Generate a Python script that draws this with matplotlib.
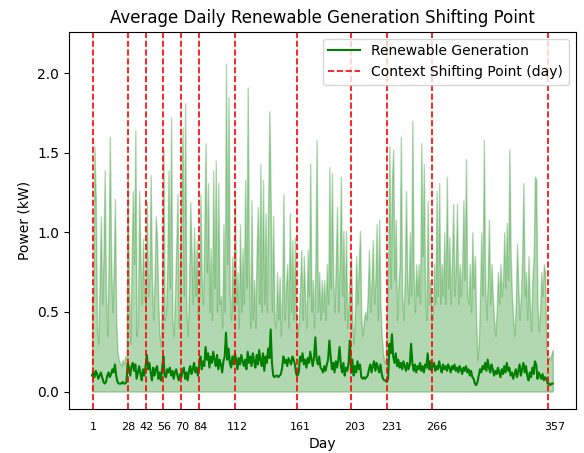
import numpy as np
import matplotlib
matplotlib.use("Agg")
import matplotlib.pyplot as plt

# Daily peak renewable generation (kW), day 0..361
peak_kw = [
    0.60, 0.58, 1.54, 1.20, 0.40, 0.30, 0.70, 1.10, 0.55, 0.85,
    1.39, 0.60, 0.35, 0.80, 1.60, 0.85, 0.50, 0.75, 1.21, 0.45,
    0.25, 0.20, 0.18, 0.16, 0.20, 0.17, 0.22, 0.20,
    1.39, 0.65, 0.30, 0.80, 1.26, 0.80, 1.64, 0.35, 0.45, 1.26, 0.85, 0.55,
    0.96, 0.60, 0.55, 1.19, 0.60, 0.75, 1.36, 0.70, 0.45, 0.70,
    1.10, 0.95, 0.55, 0.35, 0.28, 0.75, 1.52, 0.45, 0.50, 0.80,
    1.39, 0.65, 1.72, 0.45, 0.35, 0.60, 0.90, 1.24, 0.40, 0.85,
    1.20, 1.66, 0.60, 1.81, 0.50, 0.35, 0.65, 1.19, 0.90, 0.55,
    1.03, 0.60, 0.95, 0.45, 0.60, 1.24, 0.70, 0.55, 1.00, 1.56,
    0.75, 1.31, 0.50, 0.90, 0.45, 1.39, 0.65, 1.45, 0.50, 1.31,
    0.55, 0.60, 0.40, 1.05, 0.50, 2.06, 0.80, 1.85, 0.60, 0.45,
    0.85, 0.50, 1.26, 0.55, 0.75, 0.40, 1.05, 0.50, 0.90, 0.55,
    1.33, 0.65, 1.91, 0.75, 0.40, 1.20, 0.45, 0.70, 0.40, 0.90,
    1.16, 0.55, 1.43, 0.50, 1.33, 0.55, 1.12, 0.50, 1.18, 1.76,
    1.20, 0.50, 1.10, 0.45, 0.40, 0.75, 0.45, 0.72, 0.35, 0.60,
    1.24, 0.45, 0.65, 0.80, 0.40, 1.12, 0.50, 0.95, 0.45, 0.97,
    0.40, 0.35, 0.45, 0.65, 0.89, 0.45, 0.85, 0.55, 0.40, 0.89,
    0.60, 1.43, 0.50, 0.70, 0.40, 0.80, 1.58, 0.50, 0.75, 0.45,
    0.70, 0.50, 0.70, 0.45, 0.80, 0.55, 1.41, 0.65, 1.37, 0.70,
    0.50, 0.80, 1.16, 0.50, 0.80, 1.35, 0.60, 1.01, 0.45, 1.01,
    0.40, 0.55, 0.75, 0.85, 0.45, 0.30, 0.50, 0.85, 0.55, 0.80,
    1.01, 0.45, 0.35, 0.45, 0.50, 0.45, 0.60, 0.89, 0.50, 0.70,
    0.95, 0.55, 0.70, 1.05, 0.45, 1.08, 0.55, 0.35, 0.25, 0.18,
    0.20, 0.50, 0.80, 1.54, 0.65, 1.33, 1.52, 0.70, 1.08, 0.45,
    0.65, 0.80, 1.60, 0.60, 0.45, 0.70, 1.26, 0.70, 0.55, 1.00,
    0.60, 1.70, 0.75, 0.50, 0.80, 0.60, 0.80, 0.55, 1.56, 0.85,
    1.43, 0.60, 0.45, 1.20, 0.55, 0.70, 0.45, 0.45, 0.80, 0.55,
    1.26, 0.60, 1.31, 0.55, 0.80, 0.60, 1.00, 0.55, 1.35, 0.65,
    0.97, 0.55, 0.80, 1.18, 0.60, 0.80, 1.18, 0.55, 0.80, 0.60,
    0.80, 1.20, 0.70, 1.46, 0.60, 0.55, 0.80, 0.50, 1.00, 0.65,
    0.85, 0.45, 0.20, 0.30, 0.60, 1.00, 0.60, 1.58, 0.70, 0.45,
    0.70, 1.08, 0.55, 0.80, 0.60, 0.45, 0.35, 0.50, 0.75, 0.55,
    0.80, 0.60, 0.70, 1.00, 0.65, 1.06, 0.70, 1.52, 0.85, 0.60,
    0.45, 0.35, 0.55, 0.93, 0.65, 0.45, 0.60, 0.85, 1.31, 0.60,
    0.75, 0.45, 0.85, 0.55, 0.38, 0.70, 0.85, 1.35, 1.33, 0.55,
    0.38, 0.50, 0.75, 0.60, 0.80, 0.75, 0.28, 0.20, 0.22, 0.20, 0.24, 0.26,
]

# Daily average renewable generation (kW), day 0..361
avg_kw = [
    0.10, 0.12, 0.09, 0.13, 0.11, 0.08, 0.10, 0.12, 0.09, 0.06,
    0.05, 0.06, 0.10, 0.12, 0.09, 0.11, 0.14, 0.12, 0.17, 0.10,
    0.06, 0.05, 0.05, 0.05, 0.06, 0.05, 0.05, 0.06,
    0.18, 0.15, 0.10, 0.16, 0.18, 0.13, 0.17, 0.08, 0.12, 0.16, 0.11, 0.07,
    0.14, 0.10, 0.16, 0.23, 0.14, 0.18, 0.12, 0.07, 0.15, 0.10,
    0.14, 0.16, 0.08, 0.12, 0.07, 0.15, 0.22, 0.10, 0.09, 0.14,
    0.12, 0.15, 0.10, 0.13, 0.08, 0.12, 0.14, 0.10, 0.07, 0.11,
    0.09, 0.13, 0.15, 0.08, 0.12, 0.07, 0.13, 0.16, 0.11, 0.14,
    0.18, 0.12, 0.15, 0.10, 0.17, 0.22, 0.14, 0.19, 0.16, 0.28,
    0.20, 0.24, 0.15, 0.22, 0.18, 0.25, 0.20, 0.16, 0.23, 0.14,
    0.20, 0.17, 0.12, 0.19, 0.22, 0.37, 0.20, 0.27, 0.18, 0.15,
    0.22, 0.17, 0.24, 0.20, 0.14, 0.21, 0.17, 0.23, 0.19, 0.16,
    0.20, 0.14, 0.25, 0.18, 0.22, 0.16, 0.24, 0.19, 0.15, 0.23,
    0.17, 0.26, 0.20, 0.16, 0.24, 0.13, 0.22, 0.18, 0.27, 0.21,
    0.39, 0.18, 0.10, 0.09, 0.10, 0.10, 0.09, 0.10, 0.11, 0.15,
    0.22, 0.18, 0.20, 0.16, 0.21, 0.19, 0.17, 0.22, 0.20, 0.17,
    0.11, 0.10, 0.12, 0.22, 0.19, 0.24, 0.17, 0.20, 0.15, 0.21,
    0.18, 0.25, 0.20, 0.16, 0.22, 0.34, 0.20, 0.17, 0.22, 0.15,
    0.14, 0.12, 0.16, 0.13, 0.17, 0.20, 0.32, 0.22, 0.14, 0.18,
    0.12, 0.19, 0.15, 0.20, 0.28, 0.16, 0.12, 0.18, 0.10, 0.15,
    0.13, 0.18, 0.32, 0.12, 0.20, 0.10, 0.16, 0.12, 0.19, 0.14,
    0.17, 0.09, 0.08, 0.09, 0.08, 0.09, 0.10, 0.14, 0.17, 0.12,
    0.16, 0.19, 0.13, 0.18, 0.15, 0.12, 0.17, 0.11, 0.08, 0.07,
    0.07, 0.06, 0.08, 0.30, 0.24, 0.36, 0.22, 0.18, 0.24, 0.16,
    0.20, 0.15, 0.18, 0.14, 0.19, 0.16, 0.13, 0.18, 0.14, 0.17,
    0.30, 0.18, 0.13, 0.17, 0.12, 0.16, 0.14, 0.18, 0.13, 0.16,
    0.12, 0.17, 0.15, 0.24, 0.14, 0.19, 0.13, 0.16, 0.18, 0.13,
    0.16, 0.14, 0.19, 0.15, 0.12, 0.17, 0.14, 0.16, 0.13, 0.17,
    0.15, 0.12, 0.16, 0.14, 0.17, 0.13, 0.15, 0.12, 0.16, 0.14,
    0.11, 0.15, 0.13, 0.16, 0.12, 0.14, 0.10, 0.13, 0.09, 0.08,
    0.05, 0.04, 0.06, 0.10, 0.14, 0.12, 0.16, 0.14, 0.18, 0.13,
    0.20, 0.15, 0.12, 0.17, 0.14, 0.10, 0.13, 0.11, 0.15, 0.12,
    0.09, 0.14, 0.11, 0.16, 0.12, 0.18, 0.13, 0.15, 0.10, 0.12,
    0.08, 0.11, 0.14, 0.09, 0.13, 0.17, 0.10, 0.14, 0.18, 0.12,
    0.16, 0.10, 0.07, 0.12, 0.09, 0.15, 0.11, 0.19, 0.17, 0.08,
    0.12, 0.10, 0.08, 0.11, 0.07, 0.09, 0.08, 0.05, 0.05, 0.04, 0.05, 0.05,
]

# Context shifting points (day)
shift_days = [1, 28, 42, 56, 70, 84, 112, 161, 203, 231, 266, 357]

days = np.arange(len(peak_kw))

fig, ax = plt.subplots(figsize=(5.84, 4.53), dpi=100)
fig.subplots_adjust(left=0.118, right=0.986, bottom=0.097, top=0.930)

ax.fill_between(days, 0, peak_kw, color="green", alpha=0.3)
ax.plot(days, avg_kw, color="green", label="Renewable Generation")

for i, d in enumerate(shift_days):
    ax.axvline(d, color="red", linestyle="--", linewidth=1.2,
               label="Context Shifting Point (day)" if i == 0 else None)

# tick labels sit slightly right of the dashed lines in the original
tick_pos = [1 + (d - 1) * 1.015 for d in shift_days]
ax.set_xticks(tick_pos)
ax.set_xticklabels([str(d) for d in shift_days], fontsize=8)
ax.tick_params(axis="x", length=0, pad=9)

ax.set_ylim(-0.11, 2.26)
ax.set_title("Average Daily Renewable Generation Shifting Point")
ax.set_xlabel("Day")
ax.set_ylabel("Power (kW)")
ax.legend(loc="upper right", handlelength=2.3)

fig.savefig("out.png")
